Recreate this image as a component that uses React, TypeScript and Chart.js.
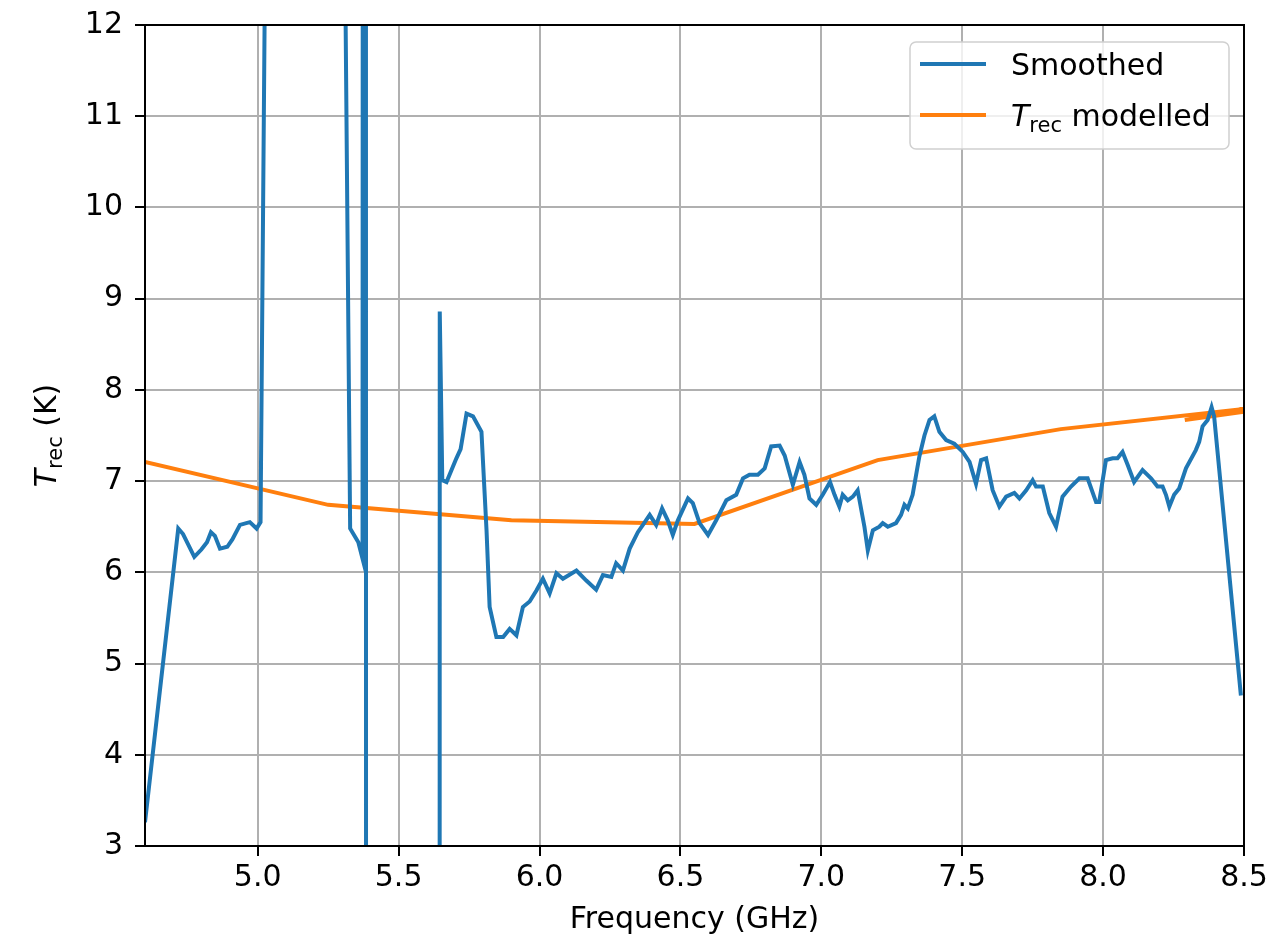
import React, { useEffect, useRef } from "react";
import { Chart, registerables } from "chart.js";

Chart.register(...registerables);

// Smoothed receiver temperature (GHz, K). Values above 12 / below 3 are off-axis spikes.
const smoothedFreq = [
  4.600, 4.718, 4.735, 4.775, 4.800, 4.820, 4.834, 4.848, 4.866, 4.892, 4.910, 4.937, 4.972, 4.996, 5.010,
  5.098, 5.231, 5.328, 5.357, 5.372, 5.381, 5.388, 5.640,
  5.646, 5.655, 5.670, 5.705, 5.720, 5.741, 5.764, 5.794, 5.812, 5.823, 5.847, 5.871, 5.894, 5.918, 5.941,
  5.965, 5.989, 6.012, 6.036, 6.060, 6.083, 6.131, 6.166, 6.201, 6.225, 6.255, 6.272, 6.296, 6.320, 6.349,
  6.367, 6.391, 6.414, 6.435, 6.455, 6.473, 6.491, 6.527, 6.544, 6.568, 6.598, 6.627, 6.663, 6.698, 6.722,
  6.745, 6.775, 6.799, 6.822, 6.852, 6.870, 6.899, 6.923, 6.940, 6.958, 6.982, 7.005, 7.031, 7.047, 7.064,
  7.076, 7.094, 7.112, 7.129, 7.153, 7.165, 7.183, 7.206, 7.218, 7.236, 7.265, 7.283, 7.295, 7.307, 7.324,
  7.348, 7.366, 7.384, 7.401, 7.419, 7.443, 7.472, 7.502, 7.526, 7.549, 7.567, 7.585, 7.608, 7.632, 7.656,
  7.685, 7.703, 7.727, 7.750, 7.762, 7.786, 7.809, 7.833, 7.856, 7.886, 7.916, 7.945, 7.975, 7.986, 8.010,
  8.034, 8.051, 8.069, 8.087, 8.110, 8.140, 8.170, 8.193, 8.211, 8.223, 8.235, 8.252, 8.270, 8.294, 8.329,
  8.341, 8.353, 8.371, 8.385, 8.394, 8.489,
];
const smoothedTrec = [
  3.26, 6.48, 6.42, 6.17, 6.25, 6.33, 6.44, 6.40, 6.26, 6.28, 6.36, 6.52, 6.55, 6.48, 6.55,
  40, 40, 6.48, 6.33, 6.15, 100, -100, -100,
  8.86, 7.01, 6.99, 7.25, 7.35, 7.74, 7.71, 7.54, 6.46, 5.62, 5.29, 5.29, 5.38, 5.31, 5.62,
  5.68, 5.80, 5.93, 5.77, 5.99, 5.93, 6.02, 5.91, 5.81, 5.97, 5.95, 6.10, 6.02, 6.26, 6.44,
  6.52, 6.63, 6.52, 6.70, 6.57, 6.41, 6.57, 6.81, 6.76, 6.54, 6.41, 6.57, 6.79, 6.85, 7.03,
  7.07, 7.07, 7.14, 7.38, 7.39, 7.28, 6.96, 7.21, 7.07, 6.81, 6.74, 6.85, 6.99, 6.85, 6.72,
  6.85, 6.79, 6.83, 6.90, 6.50, 6.24, 6.46, 6.50, 6.54, 6.50, 6.54, 6.63, 6.74, 6.70, 6.85,
  7.27, 7.50, 7.67, 7.71, 7.54, 7.45, 7.41, 7.32, 7.21, 6.97, 7.23, 7.25, 6.90, 6.72, 6.83,
  6.87, 6.81, 6.90, 7.01, 6.94, 6.94, 6.65, 6.50, 6.83, 6.94, 7.03, 7.03, 6.77, 6.77, 7.23,
  7.25, 7.25, 7.32, 7.18, 6.99, 7.12, 7.03, 6.94, 6.94, 6.85, 6.72, 6.85, 6.92, 7.14, 7.34,
  7.43, 7.60, 7.67, 7.81, 7.71, 4.65,
];

// Modelled receiver temperature (piecewise, last segment doubles back)
const modelFreq = [4.6, 5.25, 5.9, 6.55, 7.2, 7.85, 8.5, 8.29, 8.5];
const modelTrec = [7.21, 6.74, 6.57, 6.53, 7.23, 7.57, 7.79, 7.67, 7.76];

const xTicks = [5.0, 5.5, 6.0, 6.5, 7.0, 7.5, 8.0, 8.5];
const yTicks = [3, 4, 5, 6, 7, 8, 9, 10, 11, 12];

const xLabel = "Frequency (GHz)";
const seriesColors = ["#1f77b4", "#ff7f0e"];

const FONT = '"DejaVu Sans", "Liberation Sans", sans-serif';
const FS = 30;

function drawTrec(ctx: CanvasRenderingContext2D, x: number, y: number, suffix: string) {
  ctx.font = `italic ${FS}px ${FONT}`;
  ctx.fillText("T", x, y);
  let cx = x + ctx.measureText("T").width;
  ctx.font = `${Math.round(FS * 0.7)}px ${FONT}`;
  ctx.fillText("rec", cx, y + 6);
  cx += ctx.measureText("rec").width;
  ctx.font = `${FS}px ${FONT}`;
  ctx.fillText(suffix, cx, y);
}

function measureTrec(ctx: CanvasRenderingContext2D, suffix: string) {
  ctx.font = `italic ${FS}px ${FONT}`;
  let w = ctx.measureText("T").width;
  ctx.font = `${Math.round(FS * 0.7)}px ${FONT}`;
  w += ctx.measureText("rec").width;
  ctx.font = `${FS}px ${FONT}`;
  w += ctx.measureText(suffix).width;
  return w;
}

const decorPlugin = {
  id: "decor",
  afterDatasetsDraw(chart: any) {
    const ctx: CanvasRenderingContext2D = chart.ctx;
    const a = chart.chartArea;
    ctx.save();
    // spines
    ctx.strokeStyle = "#000";
    ctx.lineWidth = 2;
    ctx.strokeRect(a.left, a.top, a.right - a.left, a.bottom - a.top);

    // legend
    const bx = 910, by = 42, bw = 319, bh = 107, r = 6;
    ctx.beginPath();
    ctx.moveTo(bx + r, by);
    ctx.arcTo(bx + bw, by, bx + bw, by + bh, r);
    ctx.arcTo(bx + bw, by + bh, bx, by + bh, r);
    ctx.arcTo(bx, by + bh, bx, by, r);
    ctx.arcTo(bx, by, bx + bw, by, r);
    ctx.closePath();
    ctx.fillStyle = "rgba(255,255,255,0.8)";
    ctx.fill();
    ctx.strokeStyle = "#d0d0d0";
    ctx.lineWidth = 1.5;
    ctx.stroke();

    const rows = [64, 115];
    ctx.lineWidth = 4;
    rows.forEach((ry, i) => {
      ctx.strokeStyle = seriesColors[i];
      ctx.beginPath();
      ctx.moveTo(920, ry);
      ctx.lineTo(986, ry);
      ctx.stroke();
    });
    ctx.fillStyle = "#000";
    ctx.textBaseline = "alphabetic";
    ctx.textAlign = "left";
    ctx.font = `${FS}px ${FONT}`;
    ctx.fillText(chart.data.datasets[0].label, 1011, 75);
    drawTrec(ctx, 1011, 126, " modelled");

    // y-axis title (rotated)
    const w = measureTrec(ctx, " (K)");
    ctx.translate(56, (a.top + a.bottom) / 2);
    ctx.rotate(-Math.PI / 2);
    drawTrec(ctx, -w / 2, 0, " (K)");
    ctx.restore();
  },
};

export default function App() {
  const ref = useRef<HTMLCanvasElement | null>(null);
  useEffect(() => {
    if (!ref.current) return;
    const chart = new Chart(ref.current, {
      type: "line",
      data: {
        datasets: [
          {
            label: "Smoothed",
            data: smoothedFreq.map((f, i) => ({ x: f, y: smoothedTrec[i] })),
            borderColor: seriesColors[0],
            borderWidth: 4,
            pointRadius: 0,
            tension: 0,
            clip: 0,
          },
          {
            label: "T_rec modelled",
            data: modelFreq.map((f, i) => ({ x: f, y: modelTrec[i] })),
            borderColor: seriesColors[1],
            borderWidth: 4,
            pointRadius: 0,
            tension: 0,
            clip: 0,
          },
        ],
      },
      options: {
        animation: false,
        responsive: false,
        layout: { padding: { top: 25, right: 26, left: 0, bottom: 0 } },
        plugins: { legend: { display: false }, tooltip: { enabled: false }, title: { display: false } },
        scales: {
          x: {
            type: "linear",
            min: 4.6,
            max: 8.5,
            afterBuildTicks: (s: any) => {
              s.ticks = xTicks.map((v) => ({ value: v }));
            },
            afterFit: (s: any) => {
              s.height = 96;
              s.paddingLeft = 0;
              s.paddingRight = 0;
            },
            ticks: {
              color: "#000",
              font: { family: FONT, size: FS },
              padding: 4,
              maxRotation: 0,
              autoSkip: false,
              callback: (v: any) => Number(v).toFixed(1),
            },
            grid: { color: "#b0b0b0", lineWidth: 2, tickColor: "#000", tickLength: 10, tickWidth: 2 },
            border: { display: false },
            title: { display: true, text: xLabel, color: "#000", font: { family: FONT, size: FS }, padding: { top: 0, bottom: 4 } },
          },
          y: {
            type: "linear",
            min: 3,
            max: 12,
            afterBuildTicks: (s: any) => {
              s.ticks = yTicks.map((v) => ({ value: v }));
            },
            afterFit: (s: any) => {
              s.width = 145;
              s.paddingTop = 0;
              s.paddingBottom = 0;
            },
            ticks: {
              color: "#000",
              font: { family: FONT, size: FS },
              padding: 12,
              autoSkip: false,
              callback: (v: any) => String(v),
            },
            grid: { color: "#b0b0b0", lineWidth: 2, tickColor: "#000", tickLength: 10, tickWidth: 2 },
            border: { display: false },
          },
        },
      },
      plugins: [decorPlugin],
    });
    return () => chart.destroy();
  }, []);
  return (
    <div style={{ position: "absolute", left: 0, top: 0, width: 1270, height: 942, background: "#fff" }}>
      <canvas ref={ref} width={1270} height={942} style={{ display: "block" }} />
    </div>
  );
}
